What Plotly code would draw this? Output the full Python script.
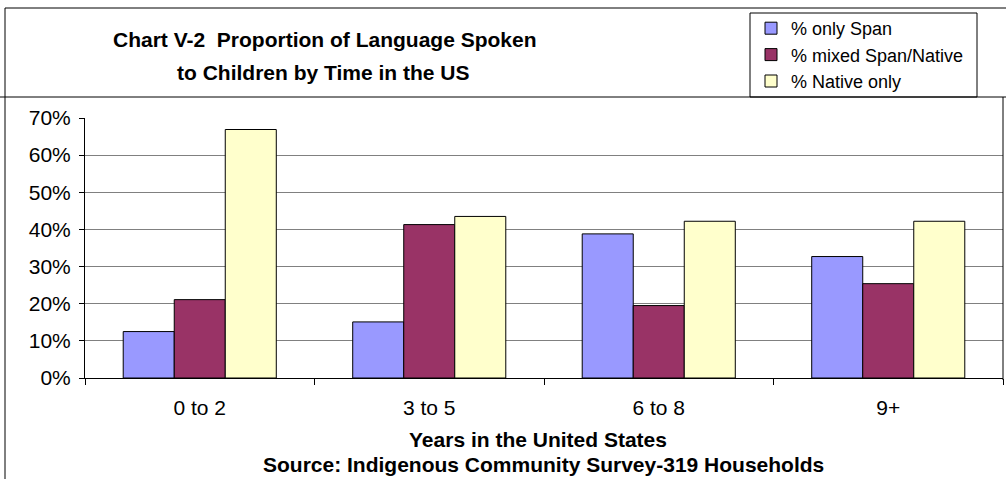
import plotly.graph_objects as go

categories = ["0 to 2", "3 to 5", "6 to 8", "9+"]
only_span = [12.5, 15.1, 38.8, 32.7]
mixed = [21.1, 41.3, 19.5, 25.4]
native_only = [66.9, 43.5, 42.2, 42.2]
series_names = ["% only Span", "% mixed Span/Native", "% Native only"]
colors = ["#9999FF", "#993366", "#FFFFCC"]
y_ticks = [0, 10, 20, 30, 40, 50, 60, 70]
y_labels = [f"{v}%" for v in y_ticks]
title_lines = ["Chart V-2  Proportion of Language Spoken", "to Children by Time in the US"]

W, H = 1006, 479
L, R, T, B = 85, 3, 118, 101
pw, ph = W - L - R, H - T - B

def px(x):
    return (x - L) / pw

def py(y):
    return (H - B - y) / ph

fig = go.Figure()
for name, vals, c in zip(series_names, [only_span, mixed, native_only], colors):
    fig.add_trace(go.Bar(x=categories, y=vals, name=name,
                         marker=dict(color=c, line=dict(color="black", width=1))))

font = "Liberation Sans, Arial, sans-serif"
fig.update_layout(
    width=W, height=H,
    margin=dict(l=L, r=R, t=T, b=B, autoexpand=False),
    paper_bgcolor="white", plot_bgcolor="white",
    barmode="group", bargap=0.333, bargroupgap=0,
    font=dict(family=font, size=20, color="black"),
    showlegend=True,
    legend=dict(x=px(751), y=py(10), xanchor="left", yanchor="top",
                font=dict(size=18, family=font), bgcolor="rgba(0,0,0,0)",
                borderwidth=0, itemwidth=30, tracegroupgap=0),
    xaxis=dict(type="category", showline=True, linecolor="black", linewidth=1,
               ticks="outside", ticklen=6, tickcolor="black", tickson="boundaries",
               ticklabelstandoff=11, tickfont=dict(size=21), showgrid=False),
    yaxis=dict(range=[0, 70], tickvals=y_ticks, ticktext=y_labels,
               showline=True, linecolor="black", linewidth=1,
               ticks="outside", ticklen=5, tickcolor="black",
               ticklabelstandoff=4,
               showgrid=True, gridcolor="#808080", gridwidth=1,
               tickfont=dict(size=21), zeroline=False),
)

for txt, yc, xc in zip(title_lines, [40, 73], [325, 323]):
    fig.add_annotation(text=f"<b>{txt}</b>", xref="paper", yref="paper", x=px(xc), y=py(yc),
                       xanchor="center", yanchor="middle", showarrow=False,
                       font=dict(size=21, family=font))
fig.add_annotation(text="<b>Years in the United States</b>", xref="paper", yref="paper",
                   x=px(538), y=py(439), xanchor="center", yanchor="middle",
                   showarrow=False, font=dict(size=21, family=font))
fig.add_annotation(text="<b>Source: Indigenous Community Survey-319 Households</b>", xref="paper", yref="paper",
                   x=px(543), y=py(464), xanchor="center", yanchor="middle",
                   showarrow=False, font=dict(size=21, family=font))

line = dict(color="black", width=1)
# chart frame
fig.add_shape(type="line", xref="paper", yref="paper", x0=px(5), x1=px(1006), y0=py(8), y1=py(8), line=line)
fig.add_shape(type="line", xref="paper", yref="paper", x0=px(5), x1=px(5), y0=py(8), y1=py(479), line=line)
fig.add_shape(type="line", xref="paper", yref="paper", x0=px(0), x1=px(1006), y0=py(97), y1=py(97), line=line)
fig.add_shape(type="line", xref="paper", yref="paper", x0=px(1003), x1=px(1003), y0=py(97), y1=py(380), line=line)
# legend box
fig.add_shape(type="rect", xref="paper", yref="paper", x0=px(750), x1=px(977), y0=py(13), y1=py(97), line=line)

fig.write_html("out.html", config={"displayModeBar": False},
               post_script="document.body.style.margin='0';document.body.style.overflow='hidden';")
